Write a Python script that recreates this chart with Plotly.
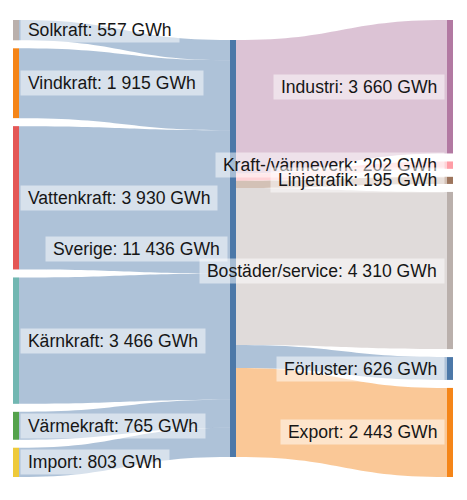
import plotly.graph_objects as go

# ---- data ----
sources = ["Solkraft", "Vindkraft", "Vattenkraft", "Kärnkraft", "Värmekraft", "Import"]
source_values = [557, 1915, 3930, 3466, 765, 803]
hub = "Sverige"
targets = ["Industri", "Kraft-/värmeverk", "Linjetrafik", "Bostäder/service", "Förluster", "Export"]
target_values = [3660, 202, 195, 4310, 626, 2443]

source_colors = ["#bab0ac", "#f58518", "#e45756", "#72b7b2", "#54a24b", "#eeca3b"]
hub_color = "#4c78a8"
target_colors = ["#b279a2", "#ff9da6", "#9d755d", "#bab0ac", "#4c78a8", "#f58518"]

# ---- figure geometry ----
FIG_W, FIG_H = 467, 500
M_L, M_R, M_T, M_B = 13, 14, 20, 23
THICK = 6
PAD = 8
PLOT_W = FIG_W - M_L - M_R
PLOT_H = FIG_H - M_T - M_B


def rgba(hexc, a):
    h = hexc.lstrip("#")
    r, g, b = int(h[0:2], 16), int(h[2:4], 16), int(h[4:6], 16)
    return f"rgba({r},{g},{b},{a})"


def fmt(v):
    return f"{v:,}".replace(",", "\u00a0")


names = sources + [hub] + targets
hub_idx = len(sources)
node_colors = source_colors + [hub_color] + target_colors

link_src, link_tgt, link_val, link_col = [], [], [], []
for i, v in enumerate(source_values):
    link_src.append(i)
    link_tgt.append(hub_idx)
    link_val.append(v)
    link_col.append(rgba(hub_color, 0.45))
for j, v in enumerate(target_values):
    link_src.append(hub_idx)
    link_tgt.append(hub_idx + 1 + j)
    link_val.append(v)
    link_col.append(rgba(target_colors[j], 0.45))

hub_value = sum(source_values)
node_values = source_values + [hub_value] + target_values

# vertical scale used by the sankey layout (column with most nodes fills the height)
ky = (PLOT_H - (len(sources) - 1) * PAD) / hub_value


def column_centers(values):
    centers = []
    y = 0.0
    for v in values:
        h = v * ky
        centers.append(y + h / 2)
        y += h + PAD
    return centers


src_centers = column_centers(source_values)
tgt_centers = column_centers(target_values)
hub_center = PLOT_H / 2

x_left = (THICK / 2) / PLOT_W
x_mid = 0.5
x_right = 1 - (THICK / 2) / PLOT_W
node_x = [x_left] * len(sources) + [x_mid] + [x_right] * len(targets)
node_y = [c / PLOT_H for c in src_centers] + [hub_center / PLOT_H] + [c / PLOT_H for c in tgt_centers]

fig = go.Figure(
    go.Sankey(
        arrangement="fixed",
        node=dict(
            label=[""] * len(names),
            customdata=[f"{n}: {fmt(v)} GWh" for n, v in zip(names, node_values)],
            hovertemplate="%{customdata}<extra></extra>",
            color=node_colors,
            thickness=THICK,
            pad=PAD,
            line=dict(width=0),
            x=node_x,
            y=node_y,
        ),
        link=dict(
            source=link_src,
            target=link_tgt,
            value=link_val,
            color=link_col,
        ),
    )
)

# ---- labels ----
font = dict(family="Arial, Liberation Sans, sans-serif", size=17.6, color="#161616")
bg = "rgba(255,255,255,0.5)"
annotations = []

for n, v, c in zip(sources, source_values, src_centers):
    annotations.append(dict(
        x=(THICK + 1) / PLOT_W, y=1 - c / PLOT_H, xref="paper", yref="paper",
        xanchor="left", yanchor="middle", showarrow=False,
        text=f"\u00a0{n}: {fmt(v)} GWh\u00a0", font=font, bgcolor=bg, borderpad=2,
    ))

annotations.append(dict(
    x=((PLOT_W - THICK) / 2 - 2) / PLOT_W, y=1 - hub_center / PLOT_H, xref="paper", yref="paper",
    xanchor="right", yanchor="middle", showarrow=False,
    text=f"\u00a0{hub}: {fmt(hub_value)} GWh\u00a0", font=font, bgcolor=bg, borderpad=2,
))

for n, v, c in zip(targets, target_values, tgt_centers):
    annotations.append(dict(
        x=(PLOT_W - THICK - 2) / PLOT_W, y=1 - c / PLOT_H, xref="paper", yref="paper",
        xanchor="right", yanchor="middle", showarrow=False,
        text=f"\u00a0{n}: {fmt(v)} GWh\u00a0", font=font, bgcolor=bg, borderpad=2,
    ))

fig.update_layout(
    width=FIG_W,
    height=FIG_H,
    margin=dict(l=M_L, r=M_R, t=M_T, b=M_B),
    paper_bgcolor="white",
    font=font,
    annotations=annotations,
)

fig.write_html("out.html")
